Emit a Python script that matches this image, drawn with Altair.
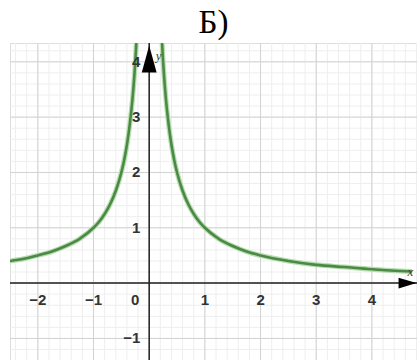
import altair as alt
import pandas as pd

# Coordinate window of the graph
X_DOMAIN = [-2.5, 4.81]
Y_DOMAIN = [-1.39, 4.34]

# Grid lines
major_x = [-2, -1, 0, 1, 2, 3, 4]
major_y = [-1, 0, 1, 2, 3, 4]
minor_x = [round(-2.4 + 0.2 * i, 2) for i in range(37)]
minor_y = [round(-1.2 + 0.2 * i, 2) for i in range(28)]

# Tick labels
x_tick_vals = [-2, -1, -0.25, 1, 2, 3, 4]
x_tick_text = ["−2", "−1", "0", "1", "2", "3", "4"]
y_tick_vals = [-1, 1, 2, 3, 4]
y_tick_text = ["−1", "1", "2", "3", "4"]

# Points read along the two branches of the curve
left_x = [-2.5, -2.25, -2.0, -1.75, -1.5, -1.25, -1.0, -0.9, -0.8, -0.7,
          -0.6, -0.5, -0.45, -0.4, -0.35, -0.3, -0.27, -0.25, -0.22, -0.2]
left_y = [0.4, 0.44, 0.5, 0.57, 0.67, 0.8, 1.0, 1.11, 1.25, 1.43,
          1.67, 2.0, 2.22, 2.5, 2.86, 3.33, 3.7, 4.0, 4.55, 5.0]
right_x = [0.2, 0.22, 0.25, 0.27, 0.3, 0.35, 0.4, 0.45, 0.5, 0.6, 0.7,
           0.8, 0.9, 1.0, 1.25, 1.5, 1.75, 2.0, 2.5, 3.0, 3.5, 4.0, 4.5, 4.72]
right_y = [5.0, 4.55, 4.0, 3.7, 3.33, 2.86, 2.5, 2.22, 2.0, 1.67, 1.43,
           1.25, 1.11, 1.0, 0.8, 0.67, 0.57, 0.5, 0.4, 0.33, 0.29, 0.25, 0.22, 0.21]

xs = alt.Scale(domain=X_DOMAIN, nice=False, zero=False)
ys = alt.Scale(domain=Y_DOMAIN, nice=False, zero=False)

curve = pd.DataFrame(
    {"x": left_x + right_x,
     "y": left_y + right_y,
     "branch": ["left"] * len(left_x) + ["right"] * len(right_x)}
)


def vrules(vals, color, width):
    return alt.Chart(pd.DataFrame({"x": vals})).mark_rule(
        color=color, strokeWidth=width
    ).encode(x=alt.X("x:Q", scale=xs, axis=None))


def hrules(vals, color, width):
    return alt.Chart(pd.DataFrame({"y": vals})).mark_rule(
        color=color, strokeWidth=width
    ).encode(y=alt.Y("y:Q", scale=ys, axis=None))


grid = (
    vrules(minor_x, "#eeeeee", 1)
    + hrules(minor_y, "#eeeeee", 1)
    + vrules(major_x, "#d2d2d2", 1)
    + hrules(major_y, "#d2d2d2", 1)
)

axes = vrules([0], "#222222", 1.5) + hrules([0], "#222222", 1.5)

up_arrow = alt.Chart(pd.DataFrame({"x": [0], "y": [4.05]})).mark_point(
    shape="M0,-1L0.55,1L-0.55,1Z", size=729, filled=True, color="black", opacity=1
).encode(x=alt.X("x:Q", scale=xs, axis=None), y=alt.Y("y:Q", scale=ys, axis=None))

right_arrow = alt.Chart(pd.DataFrame({"x": [4.64], "y": [0]})).mark_point(
    shape="M1,0L-1,-0.6L-1,0.6Z", size=324, filled=True, color="black", opacity=1
).encode(x=alt.X("x:Q", scale=xs, axis=None), y=alt.Y("y:Q", scale=ys, axis=None))

halo = alt.Chart(curve).mark_line(
    color="#b7dcb0", strokeWidth=5, clip=True, interpolate="monotone"
).encode(
    x=alt.X("x:Q", scale=xs, axis=None),
    y=alt.Y("y:Q", scale=ys, axis=None),
    detail="branch:N",
)
line = alt.Chart(curve).mark_line(
    color="#4a8a44", strokeWidth=2.6, clip=True, interpolate="monotone"
).encode(
    x=alt.X("x:Q", scale=xs, axis=None),
    y=alt.Y("y:Q", scale=ys, axis=None),
    detail="branch:N",
)

label_font = dict(font="Liberation Sans", fontSize=15, fontWeight="bold", color="#333333")

x_labels = alt.Chart(pd.DataFrame({"x": x_tick_vals, "t": x_tick_text, "y": [-0.3] * 7})).mark_text(
    align="center", baseline="middle", **label_font
).encode(x=alt.X("x:Q", scale=xs, axis=None), y=alt.Y("y:Q", scale=ys, axis=None), text="t:N")

y_labels = alt.Chart(pd.DataFrame({"y": y_tick_vals, "t": y_tick_text, "x": [-0.16] * 5})).mark_text(
    align="right", baseline="middle", **label_font
).encode(x=alt.X("x:Q", scale=xs, axis=None), y=alt.Y("y:Q", scale=ys, axis=None), text="t:N")

axis_names = alt.Chart(
    pd.DataFrame({"x": [4.69, 0.17], "y": [0.2, 4.1], "t": ["x", "y"]})
).mark_text(
    align="center", baseline="middle", font="Liberation Serif", fontStyle="italic",
    fontSize=13, color="#2f4a2f"
).encode(x=alt.X("x:Q", scale=xs, axis=None), y=alt.Y("y:Q", scale=ys, axis=None), text="t:N")

chart = (
    alt.layer(grid, axes, halo, line, up_arrow, right_arrow, x_labels, y_labels, axis_names)
    .properties(
        width=407,
        height=317,
        padding={"left": 10, "top": 43, "right": 0, "bottom": 0},
        autosize=alt.AutoSizeParams(type="none"),
        title=alt.TitleParams(
            text="Б)", font="Liberation Serif", fontSize=33, fontWeight="normal",
            color="black", anchor="middle", baseline="alphabetic", offset=-24,
            frame="group",
        ),
    )
    .configure_view(stroke=None)
    .configure(background="white")
)

chart.save("out.html", embed_options={"renderer": "svg", "actions": False})
